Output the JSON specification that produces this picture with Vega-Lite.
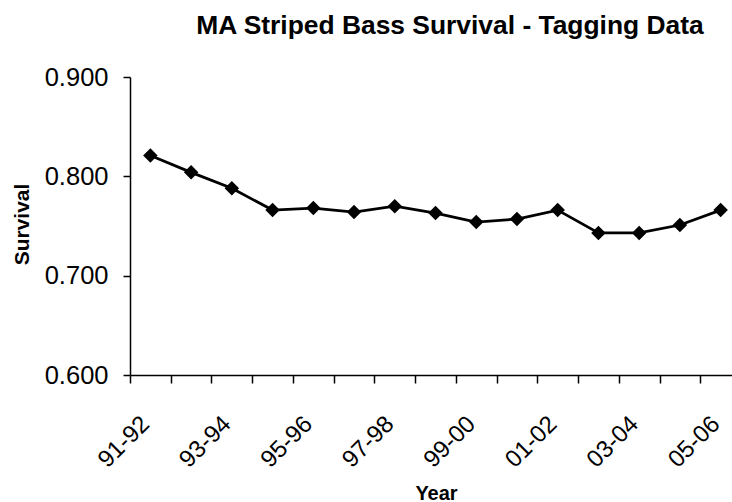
{
  "$schema": "https://vega.github.io/schema/vega-lite/v6.json",
  "width": 602,
  "height": 298,
  "autosize": "none",
  "padding": {"left": 130, "top": 77, "right": 0, "bottom": 127},
  "background": "white",
  "config": {
    "view": {"stroke": null},
    "font": "Liberation Sans"
  },
  "title": {
    "text": "MA Striped Bass Survival - Tagging Data",
    "font": "Liberation Sans",
    "fontSize": 26.4,
    "fontWeight": "bold",
    "color": "black",
    "anchor": "middle",
    "dx": 19,
    "offset": 26
  },
  "data": {
    "values": [
      {"Year": "91-92", "Survival": 0.821},
      {"Year": "92-93", "Survival": 0.804},
      {"Year": "93-94", "Survival": 0.788},
      {"Year": "94-95", "Survival": 0.766},
      {"Year": "95-96", "Survival": 0.768},
      {"Year": "96-97", "Survival": 0.764},
      {"Year": "97-98", "Survival": 0.770},
      {"Year": "98-99", "Survival": 0.763},
      {"Year": "99-00", "Survival": 0.754},
      {"Year": "00-01", "Survival": 0.757},
      {"Year": "01-02", "Survival": 0.766},
      {"Year": "02-03", "Survival": 0.743},
      {"Year": "03-04", "Survival": 0.743},
      {"Year": "04-05", "Survival": 0.751},
      {"Year": "05-06", "Survival": 0.766}
    ]
  },
  "mark": {
    "type": "line",
    "color": "black",
    "strokeWidth": 2.8,
    "point": {"shape": "diamond", "size": 210, "filled": true, "color": "black", "opacity": 1}
  },
  "encoding": {
    "x": {
      "field": "Year",
      "type": "ordinal",
      "sort": null,
      "scale": {"type": "band", "range": [0, 611], "paddingInner": 0, "paddingOuter": 0},
      "axis": {
        "title": "Year",
        "titleFont": "Liberation Sans",
        "titleFontSize": 20,
        "titleFontWeight": "bold",
        "titleColor": "black",
        "titleBaseline": "alphabetic",
        "titleX": 306,
        "titleY": 124,
        "titleAnchor": null,
        "tickBand": "extent",
        "tickSize": 8,
        "tickColor": "black",
        "tickWidth": 1.5,
        "domainColor": "black",
        "domainWidth": 1.5,
        "labelAngle": -45,
        "labelAlign": "right",
        "labelBaseline": "middle",
        "labelPadding": 37,
        "labelOffset": -5,
        "labelFont": "Liberation Sans",
        "labelFontSize": 24,
        "labelColor": "black",
        "labelOverlap": false,
        "labelExpr": "parseInt(substring(datum.value, 0, 2)) % 2 == 1 ? datum.value : ''",
        "grid": false
      }
    },
    "y": {
      "field": "Survival",
      "type": "quantitative",
      "scale": {"domain": [0.6, 0.9], "zero": false, "nice": false},
      "axis": {
        "title": "Survival",
        "titleFont": "Liberation Sans",
        "titleFontSize": 21,
        "titleFontWeight": "bold",
        "titleColor": "black",
        "titleAngle": -90,
        "titleBaseline": "alphabetic",
        "titleAlign": "center",
        "titleX": -102,
        "titleY": 147,
        "titleAnchor": null,
        "values": [0.6, 0.7, 0.8, 0.9],
        "format": ".3f",
        "tickSize": 7,
        "tickColor": "black",
        "tickWidth": 1.5,
        "domainColor": "black",
        "domainWidth": 1.5,
        "labelPadding": 15,
        "labelFont": "Liberation Sans",
        "labelFontSize": 25.5,
        "labelColor": "black",
        "grid": false
      }
    }
  }
}
